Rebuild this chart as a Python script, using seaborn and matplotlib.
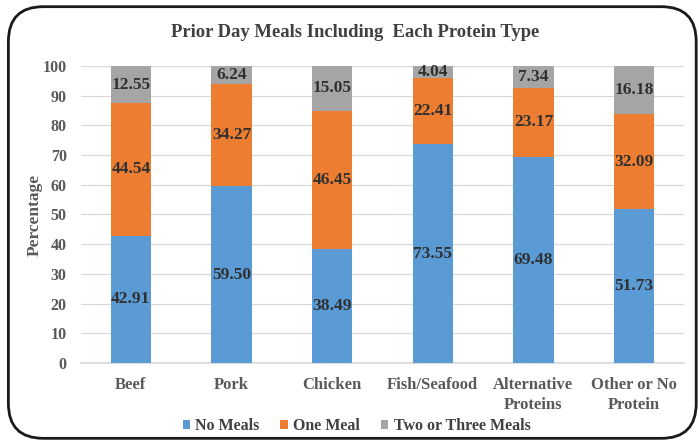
import matplotlib
matplotlib.use("Agg")
import matplotlib.pyplot as plt
from matplotlib.patches import FancyBboxPatch, Patch
import seaborn as sns
import pandas as pd

categories = ["Beef", "Pork", "Chicken", "Fish/Seafood", "Alternative\nProteins", "Other or No\nProtein"]
no_meals = [42.91, 59.50, 38.49, 73.55, 69.48, 51.73]
one_meal = [44.54, 34.27, 46.45, 22.41, 23.17, 32.09]
two_three = [12.55, 6.24, 15.05, 4.04, 7.34, 16.18]
series_names = ["No Meals", "One Meal", "Two or Three Meals"]
colors = ["#5B9BD5", "#ED7D31", "#A5A5A5"]
y_ticks = list(range(0, 101, 10))

sns.set_theme(style="white")
plt.rcParams["font.family"] = ["Liberation Serif", "DejaVu Serif"]
plt.rcParams["font.weight"] = "bold"

df = pd.DataFrame({
    "Protein": categories,
    "No Meals": no_meals,
    "One Meal": one_meal,
    "Two or Three Meals": two_three,
})
df["c1"] = df["No Meals"]
df["c2"] = df["c1"] + df["One Meal"]
df["c3"] = df["c2"] + df["Two or Three Meals"]

fig = plt.figure(figsize=(6.99, 4.45), dpi=100)
ax = fig.add_axes([0.1153, 0.184, 0.8637, 0.668])

# stacked bars: draw cumulative totals from tallest to shortest
for col, color in zip(["c3", "c2", "c1"], colors[::-1]):
    sns.barplot(data=df, x="Protein", y=col, color=color, width=0.40,
                saturation=1, ax=ax, zorder=3, linewidth=0)

ax.set_ylim(0, 100)
ax.set_yticks(y_ticks)
ax.yaxis.grid(True, color="#d9d9d9", linewidth=0.9, zorder=0)
ax.set_axisbelow(True)
for s in ["top", "right", "left"]:
    ax.spines[s].set_visible(False)
ax.spines["bottom"].set_color("#d9d9d9")
ax.tick_params(axis="y", length=0, labelsize=11.5, colors="#595959", pad=10)
ax.tick_params(axis="x", length=0, labelsize=12, colors="#595959", pad=10)
for lab in ax.get_xticklabels() + ax.get_yticklabels():
    lab.set_fontweight("bold")
for lab in ax.get_xticklabels():
    lab.set_linespacing(1.35)
ax.set_xlabel("")
ax.set_ylabel("Percentage", fontsize=12.5, fontweight="bold", color="#595959", labelpad=0)

# segment value labels
for i in range(len(categories)):
    bottoms = [0, df["c1"][i], df["c2"][i]]
    vals = [no_meals[i], one_meal[i], two_three[i]]
    for b, v in zip(bottoms, vals):
        ax.text(i, b + v / 2, f"{v:.2f}", ha="center", va="center",
                fontsize=12.5, fontweight="bold", color="#303030", zorder=5)

fig.text(0.508, 0.928, "Prior Day Meals Including  Each Protein Type", ha="center", va="center",
         fontsize=13.4, fontweight="bold", color="#404040")

handles = [Patch(facecolor=c, edgecolor="none") for c in colors]
fig.legend(handles, series_names, loc="center", bbox_to_anchor=(0.51, 0.042), ncol=3,
           frameon=False, handlelength=0.45, handleheight=0.45,
           handletextpad=0.35, columnspacing=1.3, labelcolor="#404040",
           prop={"weight": "bold", "size": 11.5})

frame = FancyBboxPatch((0.012, 0.015), 0.984, 0.97, boxstyle="round,pad=0,rounding_size=0.05",
                       transform=fig.transFigure, facecolor="none", edgecolor="#1a1a1a",
                       linewidth=2, mutation_aspect=699 / 445)
fig.patches.append(frame)

fig.savefig("out.png", dpi=100, facecolor="white")
